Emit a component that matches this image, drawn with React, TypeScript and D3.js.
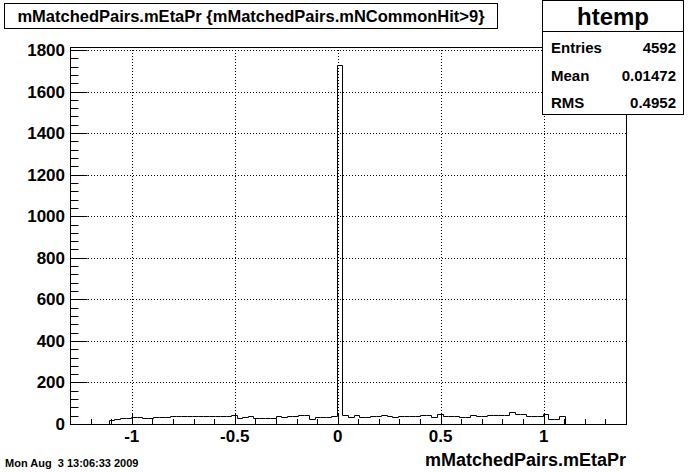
import React from 'react';
import * as d3 from 'd3';

const W = 696;
const H = 472;

// Histogram definition: 100 bins over [-1.3, 1.4]
const xMin = -1.3;
const xMax = 1.4;
const binCounts = [
  0, 0, 0, 0, 0, 0, 0,
  18, 22, 27, 28, 33, 33, 31, 31, 33, 36,
  36, 37, 37, 40, 40, 40, 40, 40, 39, 39,
  37, 37, 43, 31, 33, 37, 28, 28, 30, 30,
  37, 36, 37, 37, 43, 43, 25, 33, 35, 35,
  37, 1728, 43, 35, 41, 32, 32, 37, 37, 43,
  37, 36, 37, 37, 37, 38, 42, 42, 35, 49,
  37, 37, 37, 35, 35, 42, 37, 37, 45, 42,
  43, 43, 58, 50, 48, 40, 40, 40, 46, 26,
  26, 37,
  0, 0, 0, 0, 0, 0, 0, 0, 0, 0, 0,
];

const xMajorTicks = [-1, -0.5, 0, 0.5, 1];
const xTickLabels = ['-1', '-0.5', '0', '0.5', '1'];
const yMajorTicks = [0, 200, 400, 600, 800, 1000, 1200, 1400, 1600, 1800];
const yTickLabels = ['0', '200', '400', '600', '800', '1000', '1200', '1400', '1600', '1800'];

const titleText = 'mMatchedPairs.mEtaPr {mMatchedPairs.mNCommonHit>9}';
const xAxisTitle = 'mMatchedPairs.mEtaPr';
const dateText = 'Mon Aug  3 13:06:33 2009';
const statsName = 'htemp';
const statsLabels = ['Entries', 'Mean', 'RMS'];
const statsValues = ['4592', '0.01472', '0.4952'];

const FONT = '"Liberation Sans", Arial, Helvetica, sans-serif';

export default function App() {
  const frameL = 70;
  const frameR = 626;
  const frameT = 47;
  const frameB = 424;
  const nBins = binCounts.length;
  const binW = (xMax - xMin) / nBins;
  const yMax = d3.max(binCounts)! * 1.05;

  const x = d3.scaleLinear().domain([xMin, xMax]).range([frameL, frameR]);
  const y = d3.scaleLinear().domain([0, yMax]).range([frameB, frameT]);

  const pts: [number, number][] = [[xMin, 0]];
  binCounts.forEach((c, i) => {
    const lo = xMin + i * binW;
    pts.push([lo, c]);
    pts.push([lo + binW, c]);
  });
  pts.push([xMax, 0]);
  const line = d3
    .line<[number, number]>()
    .x((d) => Math.round(x(d[0])) + 0.5)
    .y((d) => Math.round(y(d[1])) + 0.5);

  const xMinor = d3.range(-13, 15).map((v) => v / 10).filter((v) => v > xMin - 1e-9 && v < xMax + 1e-9);
  const yMinor = d3.range(0, 1801, 40);

  const px = (v: number) => Math.round(x(v)) + 0.5;
  const py = (v: number) => Math.round(y(v)) + 0.5;

  return (
    <div style={{ position: 'fixed', left: 0, top: 0, width: W, height: H, background: '#fff' }}>
      <svg width={W} height={H} style={{ display: 'block', fontFamily: FONT }}>
        <rect x={0} y={0} width={W} height={H} fill="#fff" />
        {/* grid */}
        {xMajorTicks.map((t) => (
          <line key={'gx' + t} x1={px(t)} x2={px(t)} y1={frameT} y2={frameB} stroke="#000" strokeWidth={1} strokeDasharray="1,2" />
        ))}
        {yMajorTicks.filter((t) => t > 0).map((t) => (
          <line key={'gy' + t} x1={frameL} x2={frameR} y1={py(t)} y2={py(t)} stroke="#000" strokeWidth={1} strokeDasharray="1,2" />
        ))}
        {/* histogram */}
        <path d={line(pts) || ''} fill="none" stroke="#000" strokeWidth={1} />
        {/* frame */}
        <rect x={frameL + 0.5} y={frameT + 0.5} width={frameR - frameL} height={frameB - frameT} fill="none" stroke="#000" strokeWidth={1} />
        {/* x ticks */}
        {xMinor.map((t) => {
          const major = xMajorTicks.some((m) => Math.abs(m - t) < 1e-9);
          return (
            <line key={'tx' + t} x1={px(t)} x2={px(t)} y1={frameB + 0.5} y2={frameB + 0.5 - (major ? 11 : 5.5)} stroke="#000" strokeWidth={1} />
          );
        })}
        {/* y ticks */}
        {yMinor.map((t) => {
          const major = t % 200 === 0;
          return (
            <line key={'ty' + t} x1={frameL + 0.5} x2={frameL + 0.5 + (major ? 17 : 8)} y1={py(t)} y2={py(t)} stroke="#000" strokeWidth={1} />
          );
        })}
        {/* x labels */}
        {xMajorTicks.map((t, i) => (
          <text key={'lx' + t} x={x(t)} y={442} textAnchor="middle" fontSize={17} fontWeight="bold" fill="#000">
            {xTickLabels[i]}
          </text>
        ))}
        {/* y labels */}
        {yMajorTicks.map((t, i) => (
          <text key={'ly' + t} x={65} y={y(t) + 6} textAnchor="end" fontSize={17} fontWeight="bold" fill="#000">
            {yTickLabels[i]}
          </text>
        ))}
        {/* axis title */}
        <text x={frameR} y={466} textAnchor="end" fontSize={18} fontWeight="bold" fill="#000">
          {xAxisTitle}
        </text>
        {/* date */}
        <text x={5} y={467} fontSize={11} fontWeight="bold" fill="#000" style={{ whiteSpace: 'pre' }}>
          {dateText}
        </text>
        {/* title box */}
        <rect x={4.5} y={3.5} width={493} height={25} fill="#fff" stroke="#000" strokeWidth={1} />
        <text x={251} y={22} textAnchor="middle" fontSize={16.5} fontWeight="bold" fill="#000">
          {titleText}
        </text>
        {/* stats box */}
        <rect x={542.5} y={0.5} width={141} height={114} fill="#fff" stroke="#000" strokeWidth={1} />
        <line x1={542.5} x2={683.5} y1={31.5} y2={31.5} stroke="#000" strokeWidth={1} />
        <text x={613} y={25} textAnchor="middle" fontSize={24} fontWeight="bold" fill="#000">
          {statsName}
        </text>
        {statsLabels.map((l, i) => (
          <g key={l}>
            <text x={551} y={53 + i * 27.5} fontSize={15} fontWeight="bold" fill="#000">
              {l}
            </text>
            <text x={676} y={53 + i * 27.5} textAnchor="end" fontSize={15} fontWeight="bold" fill="#000">
              {statsValues[i]}
            </text>
          </g>
        ))}
      </svg>
    </div>
  );
}
